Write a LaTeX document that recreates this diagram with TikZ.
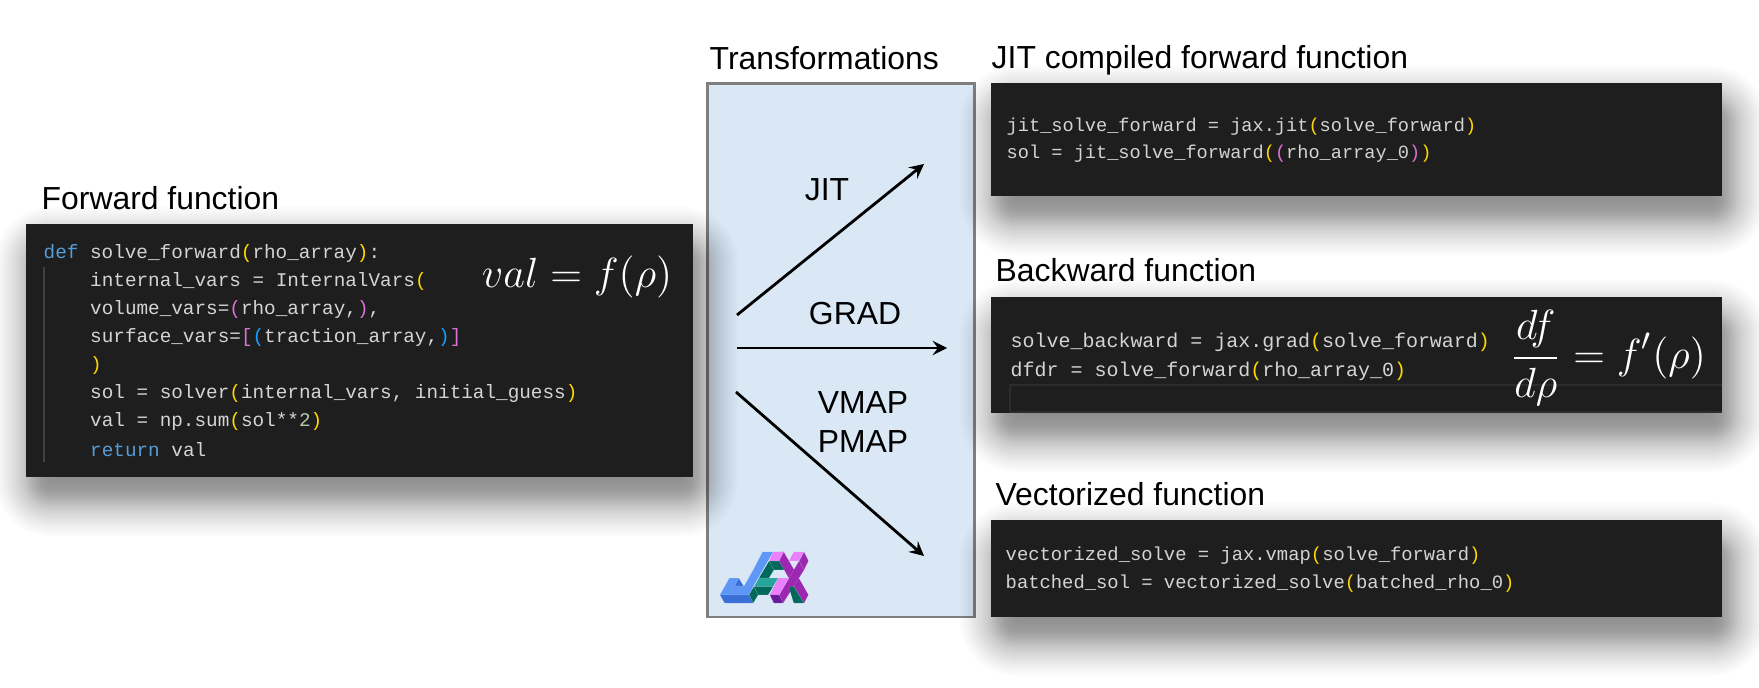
\documentclass[tikz,border=0pt]{standalone}
\usepackage{fontspec}
\usepackage{amsmath}
\setmainfont{Liberation Sans}
\setmonofont{Liberation Mono}

\definecolor{codebg}{HTML}{1E1E1E}
\definecolor{codefg}{HTML}{D4D4D4}
\definecolor{kwblue}{HTML}{569CD6}
\definecolor{brgold}{HTML}{FFD700}
\definecolor{brpink}{HTML}{DA70D6}
\definecolor{brblue}{HTML}{179FFF}
\definecolor{numgreen}{HTML}{B5CEA8}
\definecolor{panelblue}{HTML}{DAE8F5}
\definecolor{panelgray}{HTML}{7F7F7F}

\newcommand{\kw}[1]{\textcolor{kwblue}{#1}}
\newcommand{\gd}[1]{\textcolor{brgold}{#1}}
\newcommand{\pk}[1]{\textcolor{brpink}{#1}}
\newcommand{\bl}[1]{\textcolor{brblue}{#1}}

\tikzset{
  title/.style={anchor=base west,inner sep=0pt,font=\fontsize{9.07}{11}\selectfont},
  oplabel/.style={inner sep=0pt,font=\fontsize{9.07}{11}\selectfont},
  codebox/.style={fill=codebg,inner sep=0pt},
  codeline/.style={anchor=west,inner sep=0pt,text=codefg,font=\ttfamily\fontsize{#1}{7}\selectfont},
  eqn/.style={inner sep=0pt,text=white,font=\fontsize{#1}{16}\selectfont},
  transform/.style={->,line width=.8pt},
  lb/.style={fill=#1,draw=white,draw opacity=.18,line width=.12pt}
}

\begin{document}
\begin{tikzpicture}[>=stealth]
  \useasboundingbox (0,0) rectangle (17.59,6.87);
  % transformations panel, under the shadows
  \node (panel) [draw=panelgray,fill=panelblue,line width=.85pt,inner sep=0pt,
    minimum width=2.67cm,minimum height=5.33cm] at (8.41,3.365) {};
  % code boxes with their soft shadows
  \foreach \name/\xa/\ya/\xb/\yb in {fwdbox/0.26/2.10/6.93/4.63, jitbox/9.91/4.91/17.22/6.04,
      backbox/9.91/2.74/17.22/3.90, vecbox/9.91/0.70/17.22/1.67}{
    \foreach \t in {-1,-.95,...,1.01}{
      \pgfmathsetmacro{\e}{.04+.34*\t*(.6+.4*\t*\t)}
      \fill[black,opacity=.017,rounded corners={max(.05,.18+\e)*1cm}]
        (\xa+.07-\e,\ya-.21-\e) rectangle (\xb+.07+\e,\yb-.21+\e);
    }
  }
  \foreach \name/\xa/\ya/\xb/\yb in {fwdbox/0.26/2.10/6.93/4.63, jitbox/9.91/4.91/17.22/6.04,
      backbox/9.91/2.74/17.22/3.90, vecbox/9.91/0.70/17.22/1.67}{
    \node (\name) [codebox,minimum width={(\xb-\xa)*1cm},minimum height={(\yb-\ya)*1cm}]
      at ({(\xa+\xb)/2},{(\ya+\yb)/2}) {};
  }
  % headings
  \node (fwdtitle) [title] at (0.41,4.77) {Forward function};
  \node (transtitle) [title] at (7.09,6.17) {Transformations};
  \node (jittitle) [title] at (9.91,6.18) {JIT compiled forward function};
  \node (backtitle) [title] at (9.95,4.05) {Backward function};
  \node (vectitle) [title] at (9.95,1.82) {Vectorized function};
  % forward function code
  \draw[white!15!codebg,line width=.3pt] (0.44,4.20) -- (0.44,2.25);
  \node (fwd1) [codeline=5.5] at (0.43,4.33) {\kw{def} solve\_forward\gd{(}rho\_array\gd{)}:};
  \foreach \txt [count=\i from 2] in {
      {internal\_vars = InternalVars\gd{(}},
      {volume\_vars=\pk{(}rho\_array,\pk{)},},
      {surface\_vars=\pk{[}\bl{(}traction\_array,\bl{)}\pk{]}},
      {\gd{)}},
      {sol = solver\gd{(}internal\_vars, initial\_guess\gd{)}},
      {val = np.sum\gd{(}sol**\textcolor{numgreen}{2}\gd{)}},
      {\kw{return} val}}{
    \node (fwd\i) [codeline=5.5] at (0.895,{4.33-(\i-1)*.279}) {\txt};
  }
  \node (fwdeq) [eqn=12] at (5.77,4.10) {$val=f(\rho)$};
  % jit code
  \node (jit1) [codeline=5.3] at (10.06,5.60) {jit\_solve\_forward = jax.jit\gd{(}solve\_forward\gd{)}};
  \node (jit2) [codeline=5.3] at (10.06,5.33) {sol = jit\_solve\_forward\gd{(}\pk{(}rho\_array\_0\pk{)}\gd{)}};
  % backward code
  \draw[white!6!codebg,line width=.4pt] (17.22,2.75) -- (10.10,2.75) -- (10.10,3.02) -- (17.22,3.02);
  \node (back1) [codeline=5.68] at (10.10,3.45) {solve\_backward = jax.grad\gd{(}solve\_forward\gd{)}};
  \node (back2) [codeline=5.68] at (10.10,3.16) {dfdr = solve\_forward\gd{(}rho\_array\_0\gd{)}};
  \node (backeq) [eqn=12.8] at (16.08,3.29) {$\displaystyle\frac{df}{d\rho}=f'(\rho)$};
  % vectorized code
  \node (vec1) [codeline=5.36] at (10.05,1.315) {vectorized\_solve = jax.vmap\gd{(}solve\_forward\gd{)}};
  \node (vec2) [codeline=5.36] at (10.05,1.035) {batched\_sol = vectorized\_solve\gd{(}batched\_rho\_0\gd{)}};
  % arrows and what they stand for
  \coordinate (jitstart) at (7.37,3.72);
  \coordinate (jitend) at (9.24,5.23);
  \coordinate (gradstart) at (7.37,3.39);
  \coordinate (gradend) at (9.47,3.39);
  \coordinate (vmapstart) at (7.36,2.95);
  \coordinate (vmapend) at (9.24,1.31);
  \draw[transform] (jitstart) -- (jitend);
  \draw[transform] (gradstart) -- (gradend);
  \draw[transform] (vmapstart) -- (vmapend);
  \node (jitlabel) [oplabel] at (8.27,4.97) {JIT};
  \node (gradlabel) [oplabel] at (8.55,3.73) {GRAD};
  \node (vmaplabel) [oplabel] at (8.63,2.84) {VMAP};
  \node (pmaplabel) [oplabel] at (8.63,2.45) {PMAP};
  % logo
  \begin{scope}[shift={(6.90,1.77)},x=0.00333cm,y=-0.00333cm]
    \definecolor{jlight}{HTML}{5E97F6}
    \definecolor{jdark}{HTML}{3B6FD8}
    \definecolor{ateal}{HTML}{26A69A}
    \definecolor{agreen}{HTML}{00695C}
    \definecolor{xpink}{HTML}{EA80FC}
    \definecolor{xmid}{HTML}{9C27B0}
    \definecolor{xdark}{HTML}{6A1B9A}
    \fill[lb=jlight] (218,126) -- (250,126) -- (190,230) -- (178,255) -- (90,255) -- (104,230)
      -- (118,205) -- (147,205) -- (133,230) -- (162,230) -- (190,180) -- cycle;
    \fill[lb=jdark] (147,205) -- (162,230) -- (133,230) -- cycle;
    \fill[lb=jdark] (90,255) -- (178,255) -- (190,280) -- (104,280) -- cycle;
    \fill[lb=agreen] (178,255) -- (192,230) -- (205,255) -- (190,280) -- cycle;
    \fill[lb=agreen] (238,153) -- (268,153) -- (285,180) -- (252,180) -- cycle;
    \fill[lb=agreen] (238,153) -- (252,180) -- (237,205) -- (207,205) -- cycle;
    \fill[lb=ateal] (207,205) -- (265,205) -- (250,230) -- (193,230) -- cycle;
    \fill[lb=agreen] (192,230) -- (250,230) -- (235,255) -- (205,255) -- cycle;
    \fill[lb=xmid] (268,126) -- (282,126) -- (356,255) -- (343,280) -- (312,230) -- (297,205) -- (268,153) -- cycle;
    \fill[lb=xmid] (328,153) -- (343,180) -- (280,280) -- (268,255) -- cycle;
    \fill[lb=xmid] (343,126) -- (356,153) -- (343,180) -- (328,153) -- cycle;
    \fill[lb=xpink] (250,126) -- (282,126) -- (268,153) -- (238,153) -- cycle;
    \fill[lb=xpink] (312,126) -- (343,126) -- (328,153) -- (297,153) -- cycle;
    \fill[lb=xpink] (265,205) -- (297,205) -- (268,255) -- (240,255) -- cycle;
    \fill[lb=xdark] (240,255) -- (268,255) -- (280,280) -- (252,280) -- cycle;
    \fill[lb=agreen] (297,232) -- (312,230) -- (343,280) -- (312,280) -- cycle;
  \end{scope}
\end{tikzpicture}
\end{document}
